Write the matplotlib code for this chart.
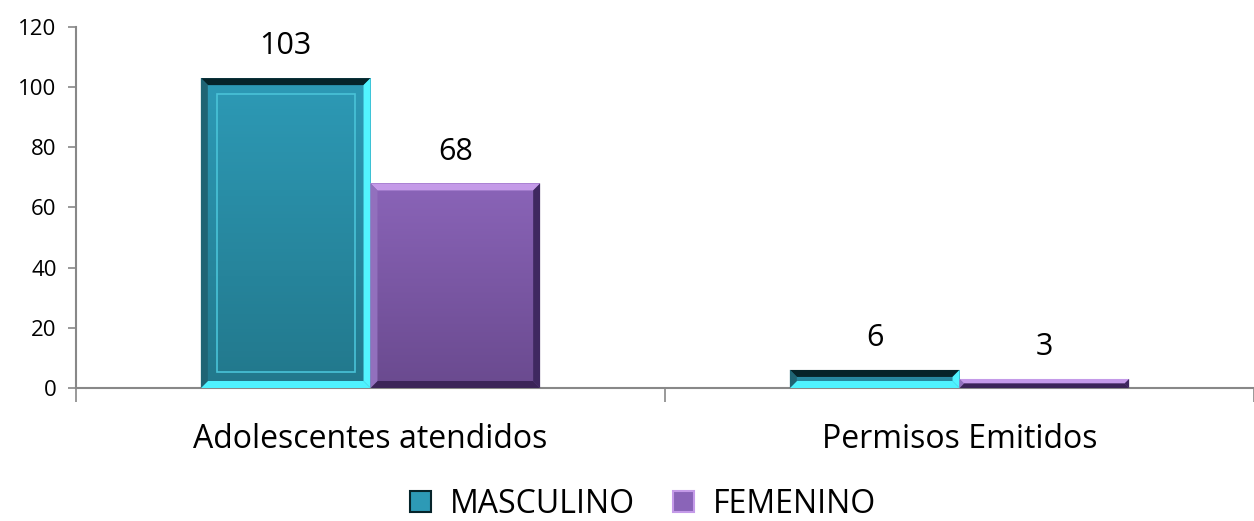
import matplotlib.pyplot as plt
import numpy as np
from matplotlib.patches import Polygon, Rectangle, Patch
from matplotlib.colors import LinearSegmentedColormap

plt.rcParams['font.family'] = ['Open Sans', 'DejaVu Sans']

categories = ['Adolescentes atendidos', 'Permisos Emitidos']
series = ['MASCULINO', 'FEMENINO']
masculino = [103, 6]
femenino = [68, 3]
yticks = [0, 20, 40, 60, 80, 100, 120]

styles = {
    'MASCULINO': dict(c1='#2d9ab6', c2='#22788c', top='#06242a', bot='#4ef2ff',
                      left='#1f6474', right='#52f4ff', inner='#49c3d8'),
    'FEMENINO': dict(c1='#8a64b8', c2='#6a4a8f', top='#c49ae8', bot='#3b2458',
                     left='#9270bd', right='#3f2860', inner=None),
}

fig = plt.figure(figsize=(12.54, 5.21), dpi=100)
ax = fig.add_axes([0.0606, 0.2553, 0.9394, 0.6929])

x = np.arange(len(categories))
w = 0.288
ax.set_xlim(-0.5, 1.49)
ax.set_ylim(0, 120)

fig.canvas.draw()
# pixel -> data scale for bevel sizes
p0 = ax.transData.transform((0, 0))
p1 = ax.transData.transform((1, 1))
pxx = p1[0] - p0[0]
pxy = p1[1] - p0[1]


def bevel_bar(rect, st):
    x0, y0 = rect.get_x(), rect.get_y()
    bw, bh = rect.get_width(), rect.get_height()
    grad = np.linspace(0, 1, 100).reshape(-1, 1)
    cm = LinearSegmentedColormap.from_list('g', [st['c2'], st['c1']])
    im = ax.imshow(grad, cmap=cm, aspect='auto', origin='lower',
                   extent=(x0, x0 + bw, y0, y0 + bh), zorder=2)
    im.set_clip_path(rect)
    bx = 7 / pxx
    by = min(7 / pxy, bh / 2)
    bxs = min(bx, by * pxy / pxx) if bh / 2 < 7 / pxy else bx
    xa, xb = x0, x0 + bw
    ya, yb = y0, y0 + bh
    polys = [
        ([(xa, yb), (xb, yb), (xb - bxs, yb - by), (xa + bxs, yb - by)], st['top']),
        ([(xa, ya), (xb, ya), (xb - bxs, ya + by), (xa + bxs, ya + by)], st['bot']),
        ([(xa, ya), (xa, yb), (xa + bxs, yb - by), (xa + bxs, ya + by)], st['left']),
        ([(xb, ya), (xb, yb), (xb - bxs, yb - by), (xb - bxs, ya + by)], st['right']),
    ]
    for pts, col in polys:
        ax.add_patch(Polygon(pts, closed=True, facecolor=col, edgecolor='none', zorder=3))
    if st['inner'] and bh > 20 / pxy:
        ix, iy = 16 / pxx, 16 / pxy
        ax.add_patch(Rectangle((xa + ix, ya + iy), bw - 2 * ix, bh - 2 * iy, fill=False,
                               edgecolor=st['inner'], lw=1.2, zorder=3))


for vals, name, off in [(masculino, 'MASCULINO', -w / 2), (femenino, 'FEMENINO', w / 2)]:
    bars = ax.bar(x + off, vals, w, color='none', edgecolor='none', zorder=2)
    for r, v in zip(bars, vals):
        bevel_bar(r, styles[name])
        ax.annotate(str(v), (r.get_x() + r.get_width() / 2, v), xytext=(0, 12),
                    textcoords='offset points', ha='center', va='bottom', fontsize=22)

ax.set_yticks(yticks)
ax.tick_params(axis='y', labelsize=16, length=6, color='#888888', width=1.2, pad=8)
ax.set_xticks(x)
ax.set_xticklabels(categories, fontsize=23)
ax.set_xticks([-0.5, 0.5, 1.5], minor=True)
ax.tick_params(axis='x', which='major', length=0, pad=25)
ax.tick_params(axis='x', which='minor', length=10, color='#888888', width=1.2)
for s in ['top', 'right']:
    ax.spines[s].set_visible(False)
for s in ['left', 'bottom']:
    ax.spines[s].set_color('#888888')
    ax.spines[s].set_linewidth(1.5)

handles = [Patch(facecolor=styles[n]['c1'], edgecolor=styles[n]['top'], lw=1.5) for n in series]
fig.legend(handles, series, loc='lower center', bbox_to_anchor=(0.513, -0.055), ncol=2,
           frameon=False, fontsize=23, handlelength=0.65, handleheight=0.65,
           handletextpad=0.6, columnspacing=1.2)

fig.savefig('out.png', dpi=100)
